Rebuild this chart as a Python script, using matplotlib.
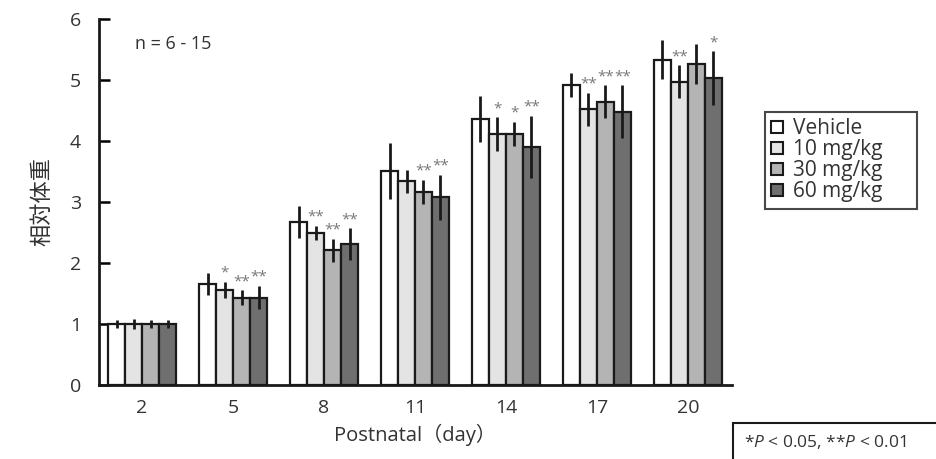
import matplotlib.pyplot as plt
import matplotlib.patches as mpatches
import numpy as np

plt.rcParams['font.family'] = ['Open Sans', 'Noto Sans CJK JP', 'DejaVu Sans']
plt.rcParams['mathtext.fontset'] = 'custom'
plt.rcParams['mathtext.it'] = 'Open Sans:italic'
plt.rcParams['mathtext.rm'] = 'Open Sans'

days = ['2', '5', '8', '11', '14', '17', '20']
groups = ['Vehicle', '10 mg/kg', '30 mg/kg', '60 mg/kg']
colors = ['#ffffff', '#e4e4e4', '#b4b4b4', '#6f6f6f']

# mean relative body weight per group, one list per dose
vehicle = [1.00, 1.66, 2.67, 3.51, 4.36, 4.92, 5.33]
dose10 = [1.00, 1.56, 2.49, 3.34, 4.11, 4.52, 4.97]
dose30 = [1.00, 1.43, 2.21, 3.16, 4.11, 4.64, 5.26]
dose60 = [1.00, 1.43, 2.31, 3.08, 3.90, 4.48, 5.03]

err_vehicle = [0.07, 0.18, 0.26, 0.46, 0.38, 0.20, 0.32]
err10 = [0.09, 0.13, 0.12, 0.19, 0.28, 0.27, 0.27]
err30 = [0.06, 0.12, 0.19, 0.20, 0.20, 0.27, 0.33]
err60 = [0.06, 0.19, 0.26, 0.37, 0.51, 0.43, 0.44]

stars10 = ['', '*', '**', '', '*', '**', '**']
stars30 = ['', '**', '**', '**', '*', '**', '']
stars60 = ['', '**', '**', '**', '**', '**', '*']

means = [vehicle, dose10, dose30, dose60]
errs = [err_vehicle, err10, err30, err60]
stars = [[''] * 7, stars10, stars30, stars60]

fig = plt.figure(figsize=(9.37, 4.59), dpi=100)
ax = fig.add_axes([99 / 937, 74 / 459, 633 / 937, 366 / 459])

x = np.arange(len(days))
w = 17 / 91
for k in range(4):
    pos = x + (k - 1.5) * w
    ax.bar(pos, means[k], width=w, color=colors[k], edgecolor='#1a1a1a',
           linewidth=1.6, zorder=2)
    ax.errorbar(pos, means[k], yerr=errs[k], fmt='none', ecolor='#1a1a1a',
                elinewidth=2, capsize=0, zorder=3)
    for i in range(len(days)):
        if stars[k][i]:
            ax.text(pos[i], means[k][i] + errs[k][i] + 0.02, stars[k][i],
                    ha='center', va='bottom', fontsize=11, color='#777777',
                    zorder=4)

ax.set_xlim(-0.473, 6.484)
ax.set_ylim(0, 6)
ax.set_yticks(range(7))
ax.set_xticks(x)
ax.set_xticklabels(days)
ax.tick_params(axis='x', length=0, pad=10, labelsize=14, labelcolor='#333333')
ax.tick_params(axis='y', direction='in', length=8, width=1.8, pad=13,
               labelsize=14, labelcolor='#333333')
for s in ['top', 'right']:
    ax.spines[s].set_visible(False)
for s in ['left', 'bottom']:
    ax.spines[s].set_linewidth(2)
    ax.spines[s].set_color('#1a1a1a')

ax.set_xlabel('Postnatal（day）', fontsize=14.5, color='#333333', labelpad=5)
ax.set_ylabel('相対体重', fontsize=16, color='#333333', labelpad=12)

fig.text(135 / 937, 1 - 44 / 459, 'n = 6 - 15', fontsize=13,
         color='#333333', va='center')

handles = [mpatches.Patch(facecolor=c, edgecolor='#1a1a1a', linewidth=1.5)
           for c in colors]
leg = fig.legend(handles, groups, loc='upper left', mode='expand',
                 bbox_to_anchor=(765 / 937, 1 - 204 / 459, 152 / 937, 92 / 459),
                 borderaxespad=0, fontsize=15,
                 handlelength=0.55, handleheight=0.55, handletextpad=0.5,
                 labelspacing=0.0, borderpad=0.3, frameon=True,
                 fancybox=False, edgecolor='#1a1a1a')
leg.get_frame().set_linewidth(1.5)
for t in leg.get_texts():
    t.set_color('#333333')

box = mpatches.Rectangle((733 / 937, -0.05), 0.3, (459 - 423) / 459 + 0.05,
                         transform=fig.transFigure, facecolor='white',
                         edgecolor='#1a1a1a', linewidth=1.5)
fig.patches.append(box)
fig.text(744 / 937, 1 - 442 / 459,
         r'*$\mathit{P}$ < 0.05, **$\mathit{P}$ < 0.01',
         fontsize=12.5, color='#333333', va='center')

fig.savefig('out.png', dpi=100)
